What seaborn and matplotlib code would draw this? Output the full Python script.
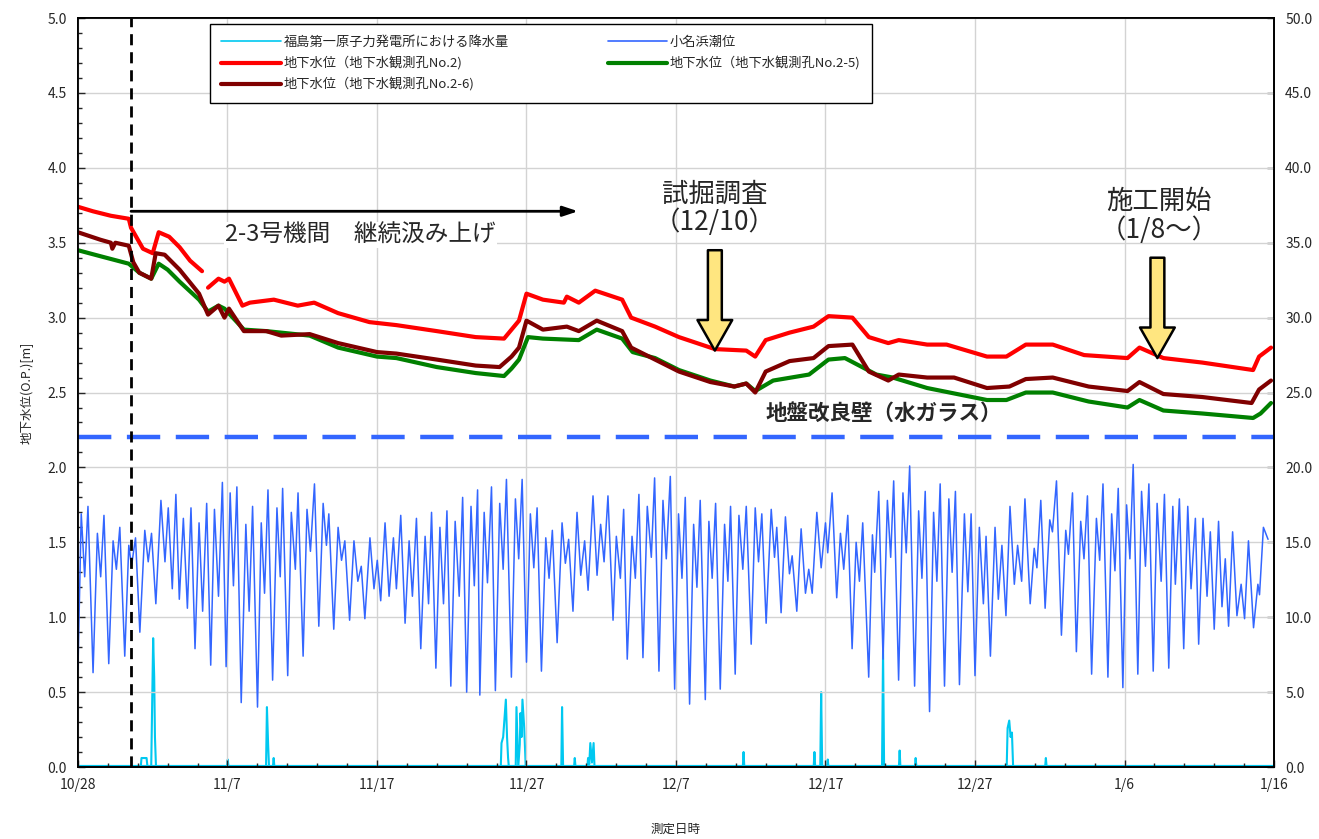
import numpy as np
import pandas as pd
import matplotlib
matplotlib.use('Agg')
import matplotlib.pyplot as plt
from matplotlib.lines import Line2D
import seaborn as sns

sns.set_style('ticks')
plt.rcParams['font.family'] = ['Noto Sans CJK JP', 'DejaVu Sans']
plt.rcParams['axes.unicode_minus'] = False

# ---- data (days counted from 10/28 00:00) ----
tick_days = [0, 10, 20, 30, 40, 50, 60, 70, 80]
tick_labels = ['10/28', '11/7', '11/17', '11/27', '12/7', '12/17', '12/27', '1/6', '1/16']

red_days = [0, 1.0, 2.2, 3.4, 3.55, 4.35, 5.0, 5.4, 6.1, 6.8, 7.5, 8.3,
            8.7, 9.4, 9.8, 10.1, 11.0, 11.5, 13.1, 14.7, 15.8, 17.4, 19.5, 21.3,
            24.0, 26.6, 28.5, 29.0, 29.5, 30.0, 31.1, 32.5, 32.7, 33.5, 34.6,
            36.4, 37.0, 38.6, 40.2, 42.6, 44.7, 45.3, 46.0, 47.6, 49.2, 50.2,
            51.8, 52.9, 54.2, 54.9, 56.8, 58.1, 60.8, 62.1, 63.4, 65.2, 67.3,
            70.2, 71.0, 72.6, 75.2, 78.6, 79.0, 79.8]
red_level = [3.74, 3.71, 3.68, 3.66, 3.60, 3.46, 3.43, 3.57, 3.54, 3.47, 3.38, 3.31,
             3.20, 3.26, 3.24, 3.26, 3.08, 3.10, 3.12, 3.08, 3.10, 3.03, 2.97, 2.95,
             2.91, 2.87, 2.86, 2.92, 2.98, 3.16, 3.12, 3.10, 3.14, 3.10, 3.18,
             3.12, 3.00, 2.94, 2.87, 2.79, 2.78, 2.74, 2.85, 2.90, 2.94, 3.01,
             3.00, 2.87, 2.83, 2.85, 2.82, 2.82, 2.74, 2.74, 2.82, 2.82, 2.75,
             2.73, 2.80, 2.73, 2.70, 2.65, 2.74, 2.80]
red_seg = [0] * 12 + [1] * 52

green_days = [0, 1.5, 3.4, 4.1, 4.9, 5.4, 6.0, 6.8, 8.1, 8.7, 9.4, 9.8, 11.1,
              12.6, 15.5, 17.4, 20.0, 21.3, 24.0, 26.6, 28.5, 29.0, 29.5, 30.1,
              31.1, 33.5, 34.7, 36.4, 37.1, 38.6, 40.2, 42.3, 43.9, 44.7, 45.3,
              46.5, 48.9, 50.2, 51.3, 53.4, 54.5, 56.8, 60.8, 62.1, 63.4, 65.2,
              67.6, 70.2, 71.0, 72.6, 75.2, 78.6, 79.1, 79.8]
green_level = [3.45, 3.41, 3.36, 3.30, 3.26, 3.36, 3.32, 3.24, 3.12, 3.04, 3.08, 3.06, 2.92,
               2.91, 2.88, 2.80, 2.74, 2.73, 2.67, 2.63, 2.61, 2.66, 2.72, 2.87,
               2.86, 2.85, 2.92, 2.86, 2.77, 2.73, 2.65, 2.58, 2.54, 2.56, 2.51,
               2.58, 2.62, 2.72, 2.73, 2.62, 2.60, 2.53, 2.45, 2.45, 2.50, 2.50,
               2.44, 2.40, 2.45, 2.38, 2.36, 2.33, 2.36, 2.43]

dred_days = [0, 1.5, 2.2, 2.3, 2.5, 3.4, 3.7, 4.1, 4.9, 5.2, 5.8, 6.8, 8.1, 8.7,
             9.4, 9.8, 10.1, 11.1, 12.6, 13.6, 15.5, 17.4, 20.0, 21.3, 24.0, 26.6,
             28.2, 29.0, 29.5, 30.0, 31.1, 32.7, 33.5, 34.7, 36.4, 37.0, 38.6,
             40.2, 42.3, 43.9, 44.7, 45.3, 46.0, 47.6, 49.2, 50.2, 51.8, 52.9,
             54.2, 54.9, 56.8, 58.6, 60.8, 62.3, 63.4, 65.2, 67.6, 70.2, 71.0,
             72.6, 75.2, 78.5, 79.0, 79.8]
dred_level = [3.57, 3.52, 3.50, 3.46, 3.50, 3.48, 3.37, 3.30, 3.26, 3.43, 3.42, 3.32, 3.16, 3.02,
              3.08, 3.00, 3.06, 2.91, 2.91, 2.88, 2.89, 2.83, 2.77, 2.76, 2.72, 2.68,
              2.67, 2.74, 2.80, 2.98, 2.92, 2.94, 2.91, 2.98, 2.91, 2.80, 2.72,
              2.64, 2.57, 2.54, 2.56, 2.50, 2.64, 2.71, 2.73, 2.81, 2.82, 2.64,
              2.58, 2.62, 2.60, 2.60, 2.53, 2.54, 2.59, 2.60, 2.54, 2.51, 2.57,
              2.49, 2.47, 2.43, 2.52, 2.58]

tide_days = [0.00, 0.22, 0.45, 0.67, 1.01, 1.30, 1.52, 1.74, 2.06, 2.35, 2.57, 2.80,
             3.13, 3.40, 3.58, 3.85, 4.14, 4.47, 4.70, 4.92, 5.21, 5.55, 5.82, 6.04,
             6.31, 6.55, 6.78, 7.05, 7.32, 7.56, 7.83, 8.10, 8.34, 8.61, 8.88, 9.13,
             9.40, 9.66, 9.91, 10.18, 10.40, 10.63, 10.92, 11.23, 11.45, 11.68, 12.01,
             12.26, 12.48, 12.71, 13.02, 13.31, 13.53, 13.69, 14.03, 14.27, 14.54,
             14.72, 15.06, 15.32, 15.55, 15.82, 16.11, 16.40, 16.62, 16.78, 17.11,
             17.40, 17.63, 17.85, 18.17, 18.46, 18.72, 18.95, 19.19, 19.53, 19.80,
             20.02, 20.25, 20.54, 20.81, 21.10, 21.30, 21.59, 21.88, 22.15, 22.37,
             22.64, 22.93, 23.22, 23.45, 23.65, 23.94, 24.21, 24.45, 24.68, 24.94,
             25.23, 25.50, 25.73, 26.00, 26.29, 26.51, 26.73, 26.88, 27.17, 27.39,
             27.66, 27.92, 28.21, 28.44, 28.66, 28.99, 29.26, 29.48, 29.71, 30.00,
             30.26, 30.49, 30.71, 31.00, 31.29, 31.51, 31.73, 32.05, 32.38, 32.60,
             32.82, 33.11, 33.38, 33.63, 33.89, 34.12, 34.45, 34.72, 34.96, 35.19,
             35.45, 35.79, 36.01, 36.28, 36.50, 36.74, 37.06, 37.28, 37.52, 37.79,
             38.08, 38.35, 38.57, 38.86, 39.13, 39.35, 39.62, 39.91, 40.17, 40.40,
             40.62, 40.91, 41.18, 41.40, 41.62, 41.96, 42.20, 42.42, 42.65, 42.96,
             43.25, 43.47, 43.65, 43.96, 44.21, 44.47, 44.70, 45.03, 45.30, 45.52,
             45.74, 46.03, 46.37, 46.59, 46.74, 47.03, 47.32, 47.59, 47.77, 48.08,
             48.37, 48.66, 48.88, 49.11, 49.42, 49.71, 50.00, 50.15, 50.44, 50.75,
             51.00, 51.22, 51.49, 51.78, 52.05, 52.27, 52.49, 52.89, 53.14, 53.29,
             53.56, 53.85, 54.14, 54.36, 54.56, 54.89, 55.18, 55.40, 55.63, 55.96,
             56.23, 56.45, 56.67, 56.96, 57.23, 57.45, 57.67, 57.96, 58.25, 58.47,
             58.69, 58.96, 59.29, 59.52, 59.74, 60.00, 60.29, 60.56, 60.74, 61.03,
             61.34, 61.56, 61.80, 62.07, 62.34, 62.63, 62.85, 63.12, 63.34, 63.69,
             63.96, 64.14, 64.40, 64.69, 65.00, 65.18, 65.45, 65.78, 66.07, 66.25,
             66.52, 66.78, 67.07, 67.29, 67.52, 67.80, 68.12, 68.34, 68.56, 68.89,
             69.14, 69.36, 69.58, 69.89, 70.14, 70.36, 70.58, 70.89, 71.14, 71.40,
             71.63, 71.92, 72.18, 72.45, 72.67, 72.96, 73.23, 73.40, 73.67, 73.96,
             74.23, 74.45, 74.74, 74.96, 75.25, 75.52, 75.74, 76.00, 76.29, 76.52,
             76.74, 76.96, 77.23, 77.52, 77.80, 78.03, 78.29, 78.63, 78.92, 79.03,
             79.29, 79.60]
tide_level = [0.65, 1.69, 1.27, 1.74, 0.63, 1.56, 1.27, 1.68, 0.69, 1.51, 1.32, 1.60,
              0.74, 1.48, 1.34, 1.53, 0.90, 1.58, 1.37, 1.56, 1.09, 1.78, 1.37, 1.73,
              1.19, 1.82, 1.12, 1.66, 1.06, 1.73, 0.79, 1.63, 1.04, 1.76, 0.68, 1.72,
              1.14, 1.90, 0.67, 1.83, 1.21, 1.87, 0.43, 1.62, 1.04, 1.74, 0.40,
              1.63, 1.16, 1.85, 0.58, 1.73, 1.27, 1.86, 0.61, 1.70, 1.32,
              1.83, 0.74, 1.72, 1.44, 1.89, 0.94, 1.76, 1.48, 1.69, 0.92,
              1.60, 1.38, 1.51, 0.98, 1.51, 1.24, 1.34, 0.99, 1.53, 1.19,
              1.38, 1.11, 1.63, 1.14, 1.53, 1.19, 1.68, 0.96, 1.51, 1.14,
              1.66, 0.79, 1.54, 1.09, 1.70, 0.66, 1.60, 1.09, 1.71, 0.54,
              1.64, 1.14, 1.80, 0.50, 1.74, 1.21, 1.85, 0.48, 1.70, 1.23,
              1.87, 0.51, 1.76, 1.32, 1.92, 0.60, 1.79, 1.39, 1.92, 0.70,
              1.69, 1.33, 1.73, 0.64, 1.53, 1.26, 1.58, 0.83, 1.63, 1.36,
              1.52, 1.04, 1.70, 1.28, 1.51, 1.18, 1.81, 1.28, 1.62, 1.37,
              1.81, 0.98, 1.54, 1.26, 1.72, 0.72, 1.54, 1.26, 1.82, 0.73,
              1.74, 1.40, 1.93, 0.64, 1.78, 1.39, 1.94, 0.52, 1.69, 1.26,
              1.80, 0.42, 1.62, 1.20, 1.78, 0.45, 1.64, 1.26, 1.76, 0.52,
              1.62, 1.24, 1.74, 0.62, 1.68, 1.32, 1.74, 0.82, 1.73, 1.37,
              1.69, 0.96, 1.72, 1.40, 1.60, 1.03, 1.67, 1.29, 1.41, 1.04,
              1.59, 1.16, 1.32, 1.16, 1.70, 1.33, 1.63, 1.43, 1.83, 1.13,
              1.56, 1.32, 1.68, 0.79, 1.50, 1.24, 1.63, 0.60, 1.55, 1.30,
              1.84, 0.72, 1.78, 1.40, 1.91, 0.58, 1.83, 1.43, 2.01, 0.54,
              1.71, 1.26, 1.84, 0.37, 1.70, 1.24, 1.89, 0.54, 1.79, 1.30,
              1.84, 0.55, 1.69, 1.17, 1.69, 0.61, 1.60, 1.09, 1.54, 0.74,
              1.60, 1.12, 1.48, 1.01, 1.74, 1.22, 1.48, 1.24, 1.79, 1.09,
              1.46, 1.33, 1.78, 1.06, 1.65, 1.57, 1.91, 0.88, 1.58, 1.42,
              1.83, 0.77, 1.64, 1.39, 1.81, 0.62, 1.66, 1.38, 1.89, 0.60,
              1.69, 1.31, 1.86, 0.53, 1.75, 1.39, 2.02, 0.62, 1.84, 1.34,
              1.89, 0.64, 1.76, 1.24, 1.82, 0.66, 1.74, 1.22, 1.79, 0.79,
              1.74, 1.19, 1.66, 0.82, 1.66, 1.14, 1.57, 0.92, 1.64, 1.07,
              1.39, 0.94, 1.57, 1.01, 1.22, 0.99, 1.51, 0.93, 1.22, 1.15,
              1.60, 1.52]

rain_days = [0, 4.20, 4.25, 4.40, 4.59, 4.65, 4.90, 5.03, 5.10, 5.15, 5.22,
             9.97, 10.02, 10.07, 12.58, 12.64, 12.72, 12.78, 13.04, 13.09, 13.14,
             28.28, 28.33, 28.44, 28.62, 28.70, 28.77, 28.82, 29.28, 29.33, 29.45,
             29.55, 29.60, 29.67, 29.73, 29.85, 29.95, 30.02,
             32.33, 32.38, 32.45, 33.18, 33.23, 33.28, 34.07, 34.12, 34.20, 34.27,
             34.38, 34.49, 34.55, 44.47, 44.52, 44.57, 49.21, 49.26, 49.31,
             49.65, 49.71, 49.78, 50.10, 50.15, 50.20, 53.78, 53.85, 53.92,
             54.91, 54.96, 55.01, 55.98, 56.03, 56.08, 62.12, 62.18, 62.29, 62.38,
             62.47, 62.55, 64.69, 64.74, 64.79, 80]
rain_mm = [0, 0, 0.6, 0.6, 0.6, 0, 0, 8.6, 6.0, 2.0, 0,
           0, 0.5, 0, 0, 4.0, 1.5, 0, 0, 0.6, 0,
           0, 1.6, 2.0, 4.5, 2.0, 0.6, 0, 0, 4.0, 0,
           1.5, 3.6, 2.0, 4.5, 2.6, 0, 0,
           0, 4.0, 0, 0, 0.6, 0, 0, 0.6, 0.2, 1.6,
           0.3, 1.6, 0, 0, 1.0, 0, 0, 1.0, 0,
           0, 5.0, 0, 0, 0.5, 0, 0, 7.8, 0,
           0, 1.1, 0, 0, 0.6, 0, 0, 2.6, 3.1, 2.0,
           2.3, 0, 0, 0.6, 0, 0]

pump_start, pump_end, pump_level = 3.55, 33.45, 3.71
wall_level = 2.2
dig_day, work_day = 42.6, 72.2

# ---- figure ----
fig = plt.figure(figsize=(13.19, 8.39), dpi=100)
ax = fig.add_axes([0.0591, 0.0858, 0.9068, 0.8927])
ax2 = ax.twinx()
ax.set_zorder(ax2.get_zorder() + 1)
ax.patch.set_visible(False)

tide_c = '#3366FF'
rain_c = '#00C8F0'

sns.lineplot(x=rain_days, y=rain_mm, ax=ax2, color=rain_c, lw=1.5,
             estimator=None, sort=False)
ax2.plot([0, 80], [0, 0], color=rain_c, lw=3, solid_capstyle='butt')

sns.lineplot(x=tide_days, y=tide_level, ax=ax, color=tide_c, lw=1.1,
             estimator=None, sort=False)

red_df = pd.DataFrame({'d': red_days, 'v': red_level, 's': red_seg})
sns.lineplot(data=red_df, x='d', y='v', units='s', ax=ax, color='#FF0000',
             lw=3.0, estimator=None, sort=False)
sns.lineplot(x=green_days, y=green_level, ax=ax, color='#008000', lw=3.0,
             estimator=None, sort=False)
sns.lineplot(x=dred_days, y=dred_level, ax=ax, color='#800000', lw=3.0,
             estimator=None, sort=False)

# reference lines
ax.axhline(wall_level, color='#3366FF', lw=3.2, dashes=(7.5, 3.5))
ax.axvline(pump_start, color='black', lw=2.0, dashes=(4, 2.5))
ax.annotate('', xy=(pump_end, pump_level), xytext=(pump_start, pump_level),
            arrowprops=dict(arrowstyle='-|>,head_length=0.9,head_width=0.3',
                            color='black', lw=2.0, shrinkA=0, shrinkB=0))
ax.text(18.9, 3.55, '2-3号機間　継続汲み上げ', fontsize=17, ha='center', va='center',
        bbox=dict(fc='white', ec='none', pad=1))
ax.text(46.0, 2.36, '地盤改良壁（水ガラス）', fontsize=15.5, fontweight='bold',
        ha='left', va='center')

yarrow = dict(arrowstyle='simple,head_length=1.1,head_width=1.25,tail_width=0.5',
              fc='#FFE680', ec='black', lw=1.8, shrinkA=0, shrinkB=0,
              mutation_scale=20)
ax.annotate('', xy=(dig_day, 2.78), xytext=(dig_day, 3.45), arrowprops=yarrow)
ax.annotate('', xy=(work_day, 2.73), xytext=(work_day, 3.40), arrowprops=yarrow)
ax.text(dig_day, 3.73, '試掘調査\n（12/10）', fontsize=19, ha='center', va='center',
        linespacing=1.05)
ax.text(work_day + 0.1, 3.68, '施工開始\n（1/8～）', fontsize=19, ha='center',
        va='center', linespacing=1.05)

# axes
ax.set_xlim(0, 80)
ax.set_ylim(0, 5)
ax2.set_ylim(0, 50)
ax.set_xticks(tick_days, labels=tick_labels)
ax.set_xticks(np.arange(0, 81, 2), minor=True)
ax.set_yticks(np.arange(0, 5.01, 0.5), labels=[f'{v:.1f}' for v in np.arange(0, 5.01, 0.5)])
ax.set_yticks(np.arange(0, 5.01, 0.1), minor=True)
ax2.set_yticks(np.arange(0, 50.1, 5), labels=[f'{v:.1f}' for v in np.arange(0, 50.1, 5)])
ax.grid(True, which='major', color='#D3D3D3', lw=1.0)
ax.tick_params(which='major', direction='in', length=5, width=1, labelsize=10, pad=8)
ax.tick_params(which='minor', direction='in', length=3, width=1)
ax2.tick_params(which='major', direction='in', length=5, width=1, labelsize=10, pad=8)
for a in (ax, ax2):
    for sp in a.spines.values():
        sp.set_linewidth(1.3)
        sp.set_color('black')
ax.set_xlabel('測定日時', fontsize=9, labelpad=22)
ax.set_ylabel('地下水位(O.P.)[m]', fontsize=9, labelpad=10)
ax2.set_ylabel('')

handles = [
    Line2D([], [], color=rain_c, lw=1.2),
    Line2D([], [], color='#FF0000', lw=3),
    Line2D([], [], color='#800000', lw=3),
    Line2D([], [], color=tide_c, lw=1.2),
    Line2D([], [], color='#008000', lw=3),
]
labels = ['福島第一原子力発電所における降水量', '地下水位（地下水観測孔No.2)',
          '地下水位（地下水観測孔No.2-6)', '小名浜潮位', '地下水位（地下水観測孔No.2-5)']
leg = ax.legend(handles, labels, ncol=2, loc='upper left',
                bbox_to_anchor=(0.110, 0.992), fontsize=9.5,
                frameon=True, fancybox=False, framealpha=1, edgecolor='black',
                handlelength=4.5, handletextpad=0.2, labelspacing=0.55,
                columnspacing=7.5, borderpad=0.9, borderaxespad=0)
leg.get_frame().set_linewidth(1.0)
leg.set_zorder(20)

fig.savefig('out.png', dpi=100)
